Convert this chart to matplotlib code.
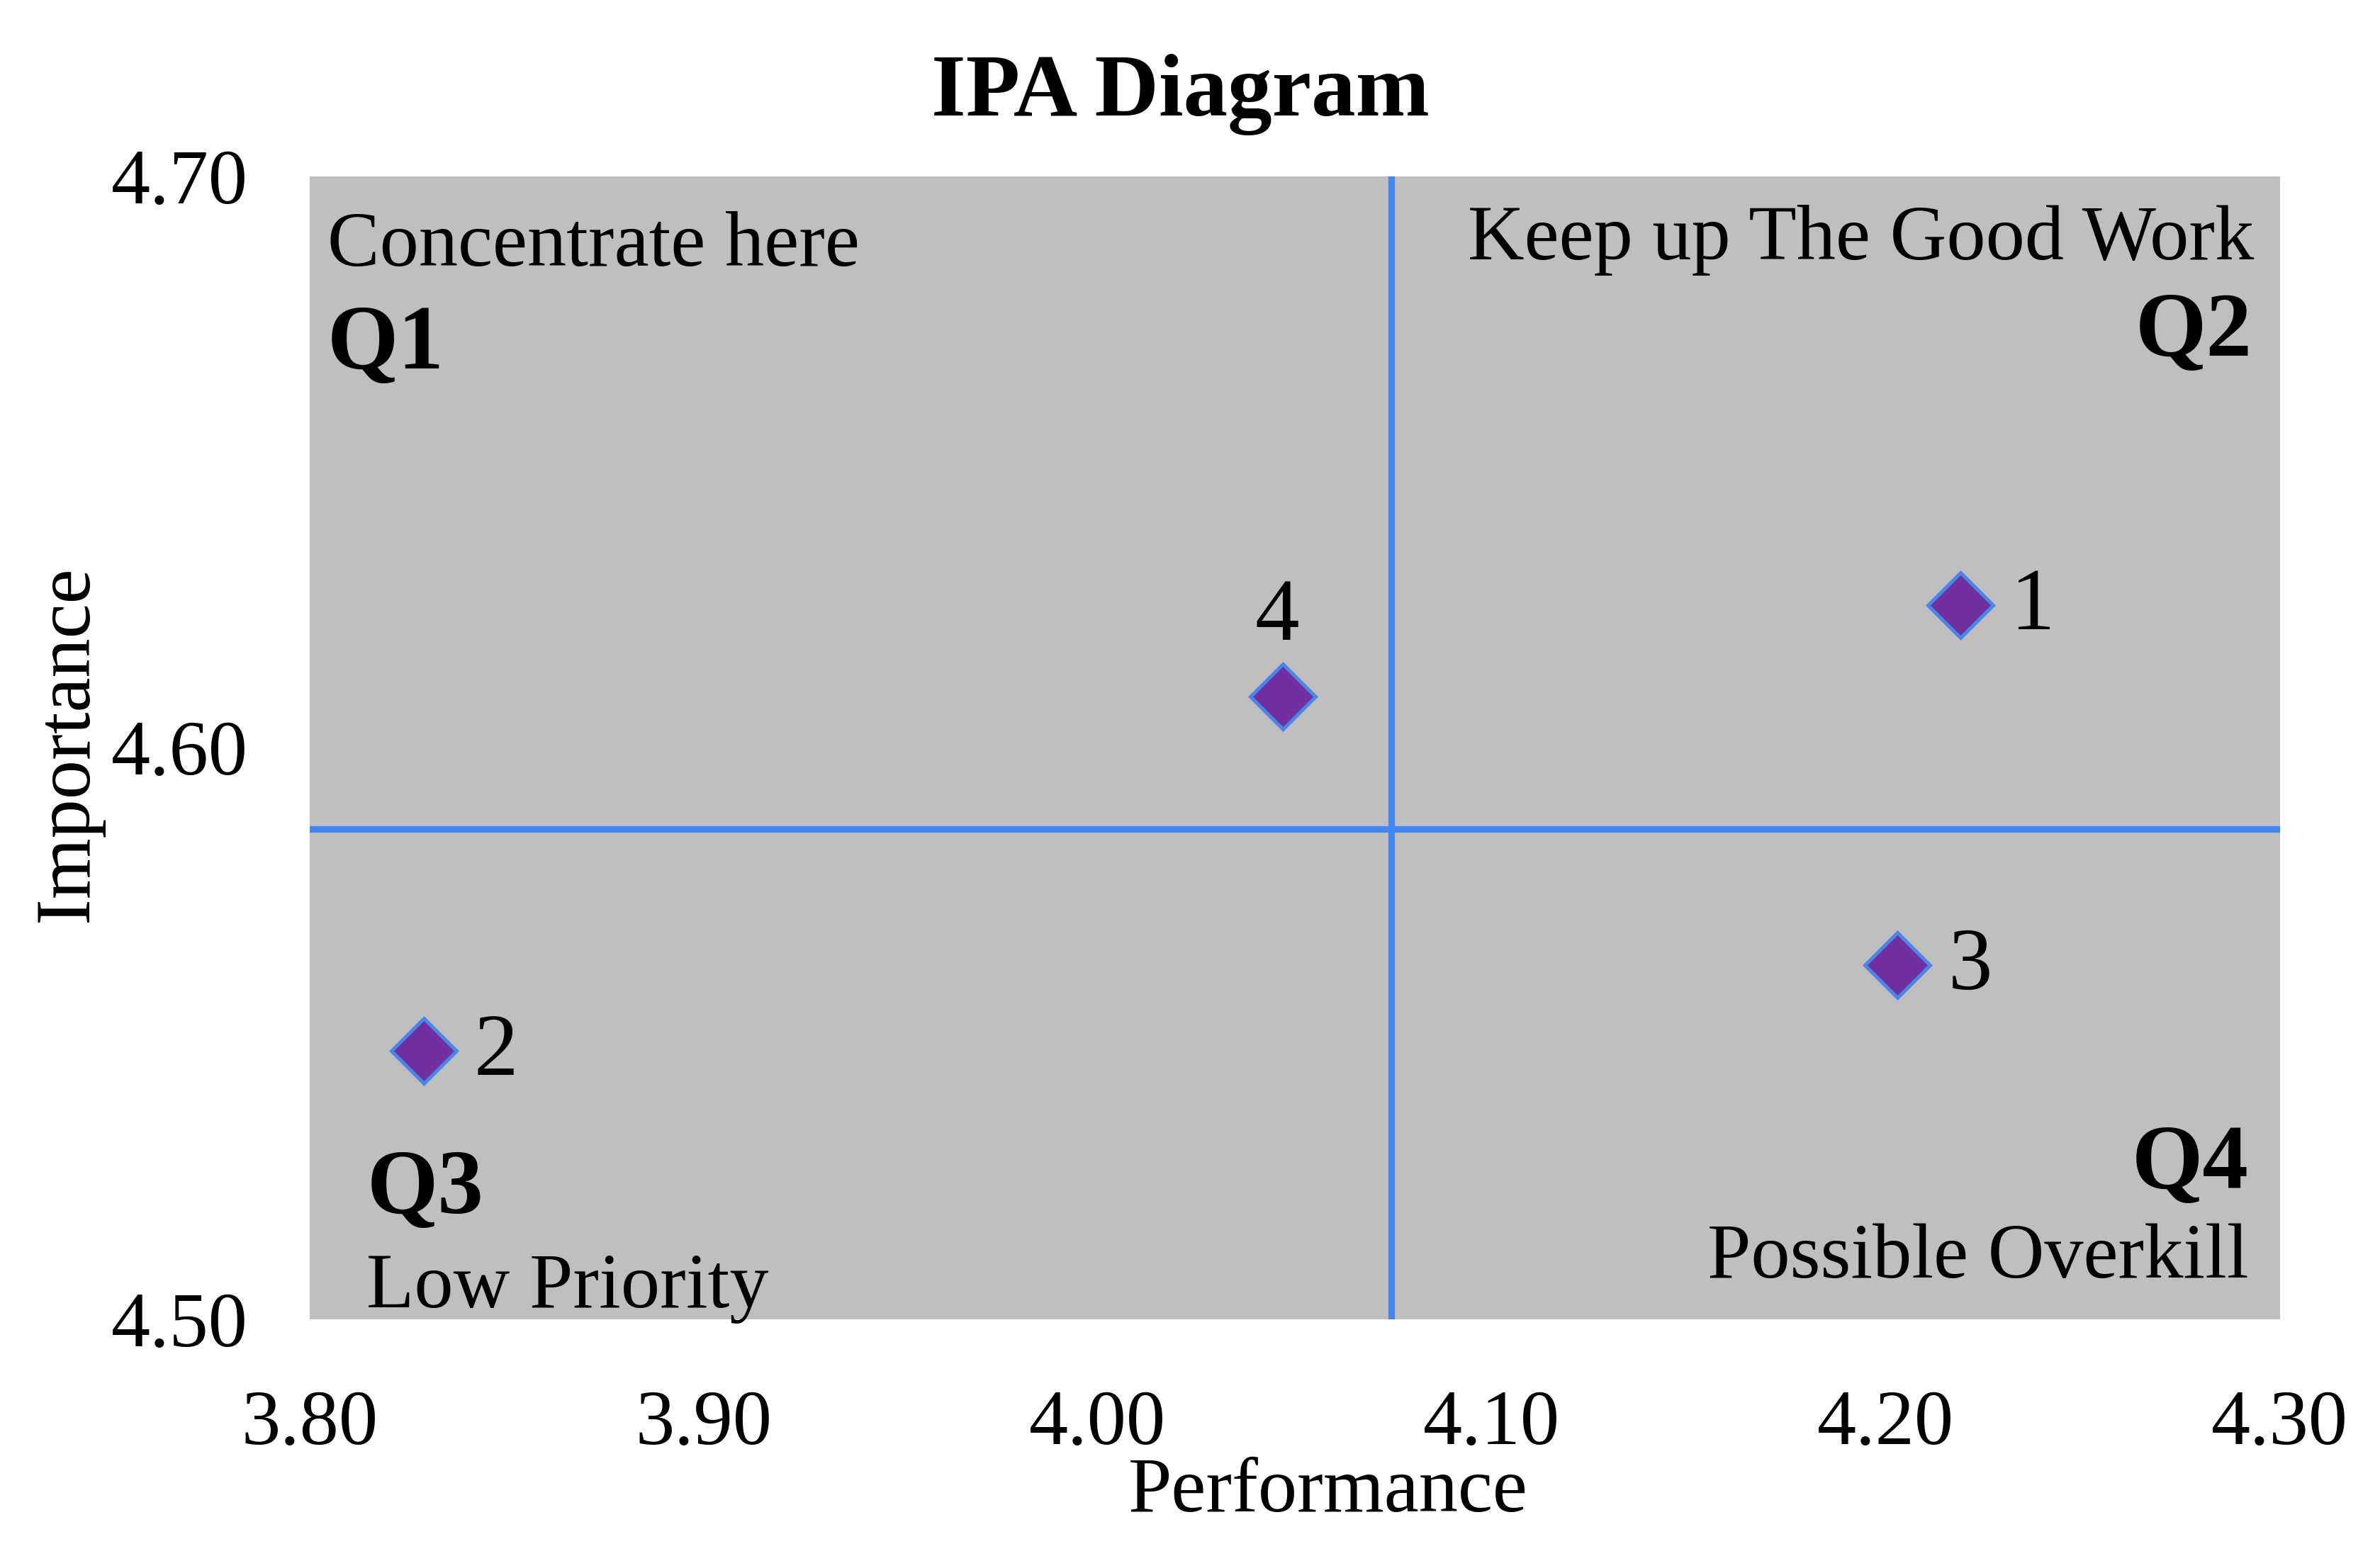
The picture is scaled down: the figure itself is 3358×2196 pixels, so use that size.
import matplotlib
matplotlib.use("Agg")
from matplotlib import pyplot as plt

# IPA data
labels = ["1", "2", "3", "4"]
performance = [4.219, 3.829, 4.203, 4.047]
importance = [4.625, 4.547, 4.562, 4.609]

x_ticks = [3.80, 3.90, 4.00, 4.10, 4.20, 4.30]
y_ticks = [4.50, 4.60, 4.70]

plt.rcParams["font.family"] = ["Liberation Serif", "DejaVu Serif"]

fig = plt.figure(figsize=(3358 / 300, 2196 / 300), dpi=300)
ax = fig.add_axes([0.1301, 0.1522, 0.8278, 0.7346])
ax.set_facecolor("#bfbfbf")
for s in ax.spines.values():
    s.set_visible(False)

ax.set_xlim(3.80, 4.30)
ax.set_ylim(4.50, 4.70)
ax.set_xticks(x_ticks)
ax.set_yticks(y_ticks)
ax.set_xticklabels([f"{v:.2f}" for v in x_ticks])
ax.set_yticklabels([f"{v:.2f}" for v in y_ticks])
ax.tick_params(axis="both", length=0, labelsize=26.5)
ax.tick_params(axis="x", pad=24)
ax.tick_params(axis="y", pad=21)

# mean lines
x_mean = sum(performance) / len(performance)
y_mean = sum(importance) / len(importance)
ax.axvline(x_mean, color="#4285f4", lw=2.2, zorder=2)
ax.axhline(y_mean, color="#4285f4", lw=2.2, zorder=2)

ax.plot(performance, importance, linestyle="none", marker="D", markersize=15.5,
        markerfacecolor="#7030a0", markeredgecolor="#4a86e8", markeredgewidth=1.2,
        zorder=3)

for lab, x, y in zip(labels, performance, importance):
    if lab == "4":
        ax.annotate(lab, (x, y), xytext=(-2, 19), textcoords="offset points",
                    ha="center", va="baseline", fontsize=30)
    else:
        ax.annotate(lab, (x, y), xytext=(17, -1), textcoords="offset points",
                    ha="left", va="center", fontsize=30)

# quadrant captions
ax.text(0.009, 0.938, "Concentrate here", transform=ax.transAxes,
        ha="left", va="center", fontsize=26.5)
ax.text(0.009, 0.851, "Q1", transform=ax.transAxes,
        ha="left", va="center", fontsize=31, fontweight="bold")
ax.text(0.987, 0.944, "Keep up The Good Work", transform=ax.transAxes,
        ha="right", va="center", fontsize=26.5)
ax.text(0.986, 0.862, "Q2", transform=ax.transAxes,
        ha="right", va="center", fontsize=31, fontweight="bold")
ax.text(0.029, 0.112, "Q3", transform=ax.transAxes,
        ha="left", va="center", fontsize=31, fontweight="bold")
ax.text(0.029, 0.027, "Low Priority", transform=ax.transAxes,
        ha="left", va="center", fontsize=26.5, clip_on=False)
ax.text(0.984, 0.134, "Q4", transform=ax.transAxes,
        ha="right", va="center", fontsize=31, fontweight="bold")
ax.text(0.984, 0.053, "Possible Overkill", transform=ax.transAxes,
        ha="right", va="center", fontsize=26.5)

fig.text(0.496, 0.939, "IPA Diagram", ha="center", va="center",
         fontsize=30, fontweight="bold")
fig.text(0.558, 0.041, "Performance", ha="center", va="center", fontsize=26.5)
fig.text(0.0287, 0.522, "Importance", ha="center", va="center",
         rotation=90, fontsize=26.5)

fig.savefig("out.png", dpi=300)
